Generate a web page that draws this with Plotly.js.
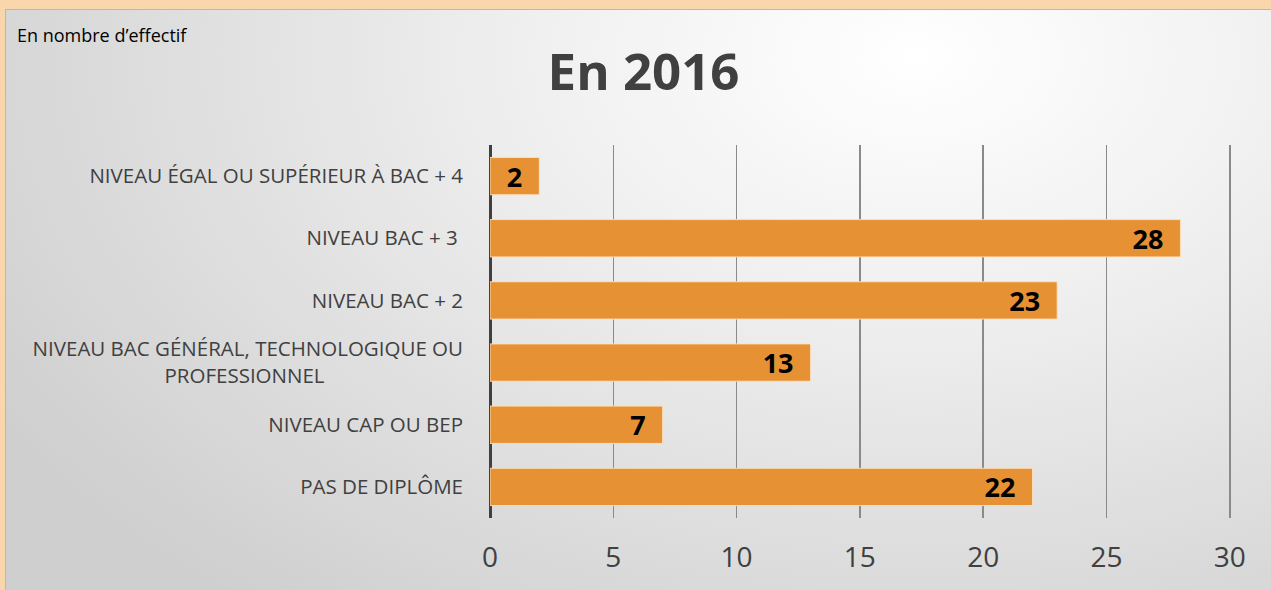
<!DOCTYPE html>
<html>
<head>
<meta charset="utf-8">
<script src="https://cdn.plot.ly/plotly-3.0.1.min.js"></script>
<style>
  html, body { margin:0; padding:0; width:1271px; height:590px; overflow:hidden; background:#FAD6AC; }
  #frame { position:absolute; left:5px; top:9px; width:1266px; height:581px;
    border-left:1px solid #b8b8b8; border-top:1px solid #b8b8b8; box-sizing:border-box;
    background: radial-gradient(ellipse 85% 120% at 72% 8%, #ffffff 0%, #f0f0f0 35%, #dedede 70%, #cfcfcf 100%); }
  #chart { position:absolute; left:0; top:0; width:1265px; height:580px; }
</style>
</head>
<body>
<div id="frame"><div id="chart"></div></div>
<script>
const NB = '\u00a0';
const categories = [
  "NIVEAU ÉGAL OU SUPÉRIEUR À BAC + 4",
  "NIVEAU BAC + 3" + NB,
  "NIVEAU BAC + 2",
  "NIVEAU BAC GÉNÉRAL, TECHNOLOGIQUE OU<br>PROFESSIONNEL" + NB.repeat(26),
  "NIVEAU CAP OU BEP",
  "PAS DE DIPLÔME"
];
const values = [2, 28, 23, 13, 7, 22];
const xTicks = [0, 5, 10, 15, 20, 25, 30];
const chartTitle = "En 2016";
const unitNote = "En nombre d’effectif";

const trace = {
  type: 'bar',
  orientation: 'h',
  y: categories,
  x: values,
  width: 0.6,
  marker: { color: 'rgb(230,146,52)', line: { color: 'rgba(255,225,190,0.9)', width: 1 } },
  texttemplate: '%{x}' + NB + NB,
  textposition: 'inside',
  insidetextanchor: 'end',
  textangle: 0,
  constraintext: 'none',
  textfont: { family: 'Open Sans, sans-serif', size: 27, color: '#000', weight: 'bold' },
  hoverinfo: 'none'
};

const layout = {
  width: 1265, height: 580,
  margin: { l: 484, r: 40, t: 135, b: 72 },
  paper_bgcolor: 'rgba(0,0,0,0)',
  plot_bgcolor: 'rgba(0,0,0,0)',
  showlegend: false,
  title: { text: chartTitle, x: 0.504, xanchor: 'center', y: 0.893, yanchor: 'middle',
    font: { family: 'Open Sans, sans-serif', size: 51, color: '#404040', weight: 'bold' } },
  xaxis: {
    range: [0, 30.05], tickvals: xTicks, ticktext: xTicks.map(String),
    showgrid: true, gridcolor: '#8a8a8a', gridwidth: 1.5,
    zeroline: true, zerolinecolor: '#404040', zerolinewidth: 3,
    showline: false, ticks: '',
    tickfont: { family: 'Open Sans, sans-serif', size: 28, color: '#404040' },
    ticklabelstandoff: 20, fixedrange: true
  },
  yaxis: {
    autorange: 'reversed', showgrid: false, zeroline: false, showline: false, ticks: '',
    tickfont: { family: 'Open Sans, sans-serif', size: 20.5, color: '#404040' },
    ticklabelstandoff: 26, fixedrange: true
  },
  annotations: [{
    text: unitNote, xref: 'paper', yref: 'paper', x: -0.641, y: 1.295, xanchor: 'left', yanchor: 'middle',
    showarrow: false, font: { family: 'Open Sans, sans-serif', size: 18, color: '#000' }
  }]
};

Plotly.newPlot('chart', [trace], layout, { displayModeBar: false, staticPlot: true });
</script>
</body>
</html>
